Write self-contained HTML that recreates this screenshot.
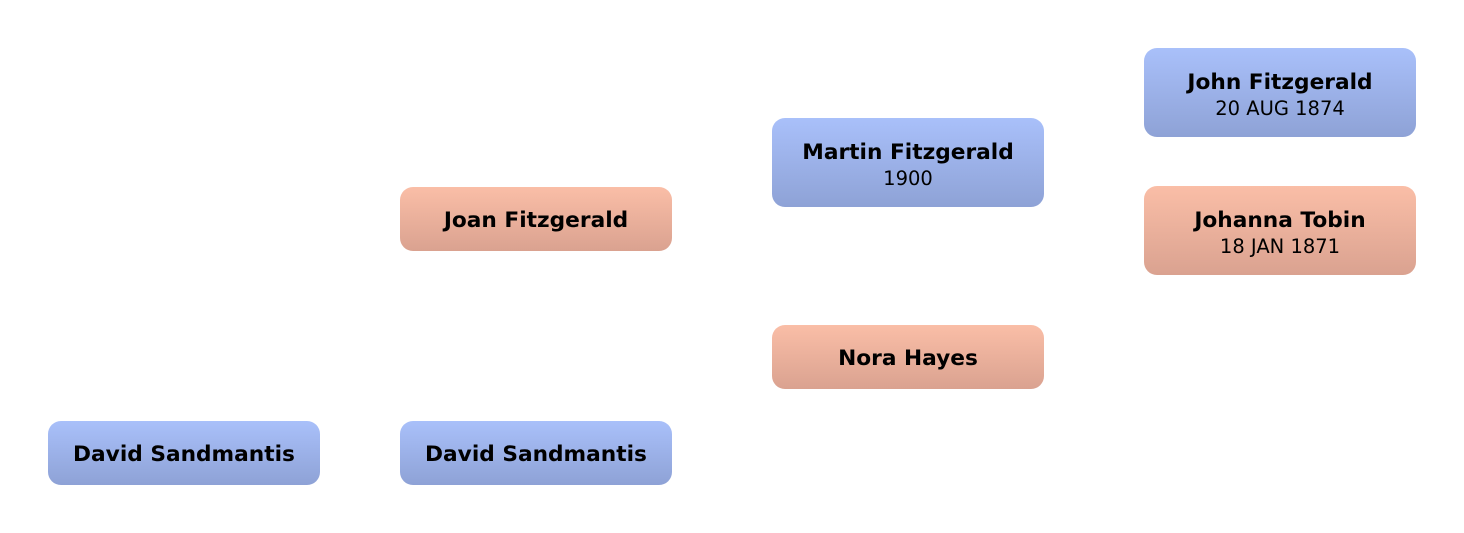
<!DOCTYPE html>
<html><head><style>
html,body{margin:0;padding:0;background:#fff;width:1464px;height:533px;overflow:hidden}
.b{position:absolute;width:272px;border-radius:13px;box-sizing:border-box;text-align:center;font-family:"DejaVu Sans","Liberation Sans",sans-serif;color:#000;display:flex;flex-direction:column;justify-content:center;align-items:center}
.m{background:linear-gradient(#a9c0fa,#8ea2d6)}
.f{background:linear-gradient(#fabea7,#daa290)}
.n{font-weight:bold;font-size:21.7px;line-height:26px}
.d{font-size:19.5px;line-height:26px;margin-top:0px}
.s{height:64px;padding-top:3px}
.t{height:89px;padding-top:6px}
</style></head><body>
<div class="b m t" style="left:1144px;top:48px"><div class="n">John Fitzgerald</div><div class="d">20 AUG 1874</div></div>
<div class="b f t" style="left:1144px;top:186px"><div class="n">Johanna Tobin</div><div class="d">18 JAN 1871</div></div>
<div class="b m t" style="left:772px;top:118px"><div class="n">Martin Fitzgerald</div><div class="d">1900</div></div>
<div class="b f s" style="left:400px;top:187px"><div class="n">Joan Fitzgerald</div></div>
<div class="b f s" style="left:772px;top:325px"><div class="n">Nora Hayes</div></div>
<div class="b m s" style="left:48px;top:421px"><div class="n">David Sandmantis</div></div>
<div class="b m s" style="left:400px;top:421px"><div class="n">David Sandmantis</div></div>
</body></html>
